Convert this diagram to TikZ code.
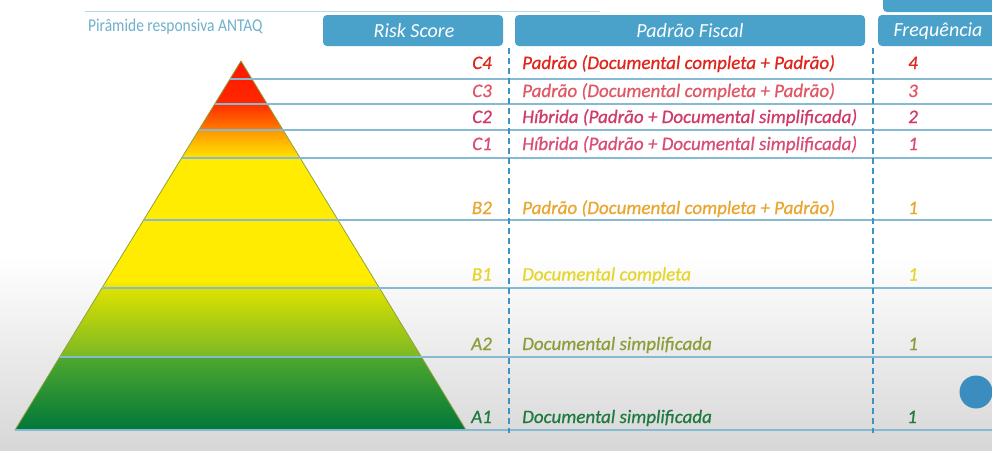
\documentclass[tikz,border=0pt]{standalone}
\usepackage{fontspec}
\setmainfont{Carlito}
\newfontfamily\rowfont{Carlito}[FakeBold=0.7]
\usetikzlibrary{calc}
\definecolor{hdrblue}{HTML}{4AA2CB}
\definecolor{titleblue}{HTML}{6FB0CC}
\definecolor{rulecol}{HTML}{86BAD3}
\definecolor{dashcol}{HTML}{3F93C2}
\definecolor{bggray}{HTML}{D7D7D7}
\definecolor{edgecol}{HTML}{8FA33A}
\definecolor{cfour}{HTML}{E0261C}
\definecolor{cthree}{HTML}{E05866}
\definecolor{ctwo}{HTML}{CF3A68}
\definecolor{cone}{HTML}{D84D76}
\definecolor{btwo}{HTML}{E9A630}
\definecolor{bone}{HTML}{E6D52A}
\definecolor{atwo}{HTML}{8E9C3A}
\definecolor{aone}{HTML}{1E7A3E}
\definecolor{dotblue}{HTML}{3B8DC0}
% pyramid band colours
\definecolor{redA}{RGB}{255,20,0}
\definecolor{redB}{RGB}{255,40,0}
\definecolor{redC}{RGB}{255,45,0}
\definecolor{orgA}{RGB}{255,125,0}
\definecolor{orgB}{RGB}{255,150,0}
\definecolor{ylwA}{RGB}{255,228,0}
\definecolor{ylwB}{RGB}{255,236,0}
\definecolor{ylwC}{RGB}{232,228,0}
\definecolor{ylgA}{RGB}{222,226,0}
\definecolor{grnA}{RGB}{122,184,36}
\definecolor{grnB}{RGB}{78,168,46}
\definecolor{grnC}{RGB}{0,118,58}
\begin{document}
\begin{tikzpicture}[x=1pt,y=-1pt,
  hdrtext/.style={text=white,font=\fontsize{20}{24}\selectfont\itshape,inner sep=0pt},
  rowtext/.style={font=\rowfont\fontsize{19}{22}\selectfont\itshape,inner sep=0pt,anchor=base west},
  codetext/.style={font=\rowfont\fontsize{19}{22}\selectfont\itshape,inner sep=0pt,anchor=base east},
  freqtext/.style={font=\rowfont\fontsize{19}{22}\selectfont\itshape,inner sep=0pt,anchor=base},
  sepline/.style={draw=rulecol,line width=1.1pt},
  colsep/.style={draw=dashcol,line width=1.4pt,dash pattern=on 6pt off 4pt}]
\useasboundingbox (0,0) rectangle (992,450);
% page background: white fading to light gray at the bottom
\fill[white] (0,0) rectangle (992,450);
\shade[top color=white,bottom color=bggray] (0,255) rectangle (992,450);

% top rule and title
\draw[draw=titleblue!50,line width=0.8pt] (85,11) -- (600,11);
\node[text=titleblue,font=\fontsize{18}{20}\selectfont,inner sep=0pt,anchor=west,xscale=0.86] (title) at (88,27) {Pirâmide responsiva ANTAQ};

% column headers
\fill[hdrblue,rounded corners=4pt] (883,-10) rectangle (1000,12);
\fill[hdrblue,rounded corners=4pt] (323,15) rectangle (503,46);
\fill[hdrblue,rounded corners=4pt] (515,15) rectangle (865,46);
\fill[hdrblue,rounded corners=4pt] (878,15) rectangle (1000,46);
\node[hdrtext] (hrisk) at (414,31) {Risk Score};
\node[hdrtext] (hfiscal) at (690,31) {Padrão Fiscal};
\node[hdrtext] (hfreq) at (938,31) {Frequência};

% pyramid
\coordinate (apex) at (241,61);
\coordinate (bl) at (15,430);
\coordinate (br) at (466,430);
\begin{scope}
  \clip (apex) -- (bl) -- (br) -- cycle;
  \shade[top color=redA,bottom color=redB] (0,55) rectangle (500,104);
  \shade[top color=redC,bottom color=orgA] (0,104) rectangle (500,130);
  \shade[top color=orgB,bottom color=ylwA] (0,130) rectangle (500,158);
  \fill[ylwB] (0,158) rectangle (500,280);
  \shade[top color=ylwB,bottom color=ylwC] (0,280) rectangle (500,288);
  \shade[top color=ylgA,bottom color=grnA] (0,288) rectangle (500,357);
  \shade[top color=grnB,bottom color=grnC] (0,357) rectangle (500,431);
\end{scope}
\draw[edgecol,line width=0.8pt,line join=round] (apex) -- (bl) -- (br) -- cycle;

% level rules from the left face of the pyramid to the right edge
\foreach \yy in {79,104,130,158,220,288,357,430}{
  \pgfmathsetmacro\xl{241-(\yy-61)/369*226}
  \draw[sepline] (\xl,\yy) -- (992,\yy);
}

% column separators
\draw[colsep] (509,48) -- (509,433);
\draw[colsep] (873,48) -- (873,433);

% rows: code, inspection standard, frequency
\node[codetext,text=cfour] (c4) at (492,69) {C4};
\node[rowtext,text=cfour] (p4) at (522,69) {Padrão (Documental completa + Padrão)};
\node[freqtext,text=cfour] (f4) at (913,69) {4};

\node[codetext,text=cthree] (c3) at (492,97) {C3};
\node[rowtext,text=cthree] (p3) at (522,97) {Padrão (Documental completa + Padrão)};
\node[freqtext,text=cthree] (f3) at (913,97) {3};

\node[codetext,text=ctwo] (c2) at (492,123) {C2};
\node[rowtext,text=ctwo] (p2) at (522,123) {Híbrida (Padrão + Documental simplificada)};
\node[freqtext,text=ctwo] (f2) at (913,123) {2};

\node[codetext,text=cone] (c1) at (492,150) {C1};
\node[rowtext,text=cone] (p1) at (522,150) {Híbrida (Padrão + Documental simplificada)};
\node[freqtext,text=cone] (f1) at (913,150) {1};

\node[codetext,text=btwo] (b2) at (492,214) {B2};
\node[rowtext,text=btwo] (pb2) at (522,214) {Padrão (Documental completa + Padrão)};
\node[freqtext,text=btwo] (fb2) at (913,214) {1};

\node[codetext,text=bone] (b1) at (492,280.5) {B1};
\node[rowtext,text=bone] (pb1) at (522,280.5) {Documental completa};
\node[freqtext,text=bone] (fb1) at (913,280.5) {1};

\node[codetext,text=atwo] (a2) at (492,350) {A2};
\node[rowtext,text=atwo] (pa2) at (522,350) {Documental simplificada};
\node[freqtext,text=atwo] (fa2) at (913,350) {1};

\node[codetext,text=aone] (a1) at (492,423) {A1};
\node[rowtext,text=aone] (pa1) at (522,423) {Documental simplificada};
\node[freqtext,text=aone] (fa1) at (912,423) {1};

% round marker at the right margin
\fill[dotblue] (976,392) circle (16.5);
\end{tikzpicture}
\end{document}
